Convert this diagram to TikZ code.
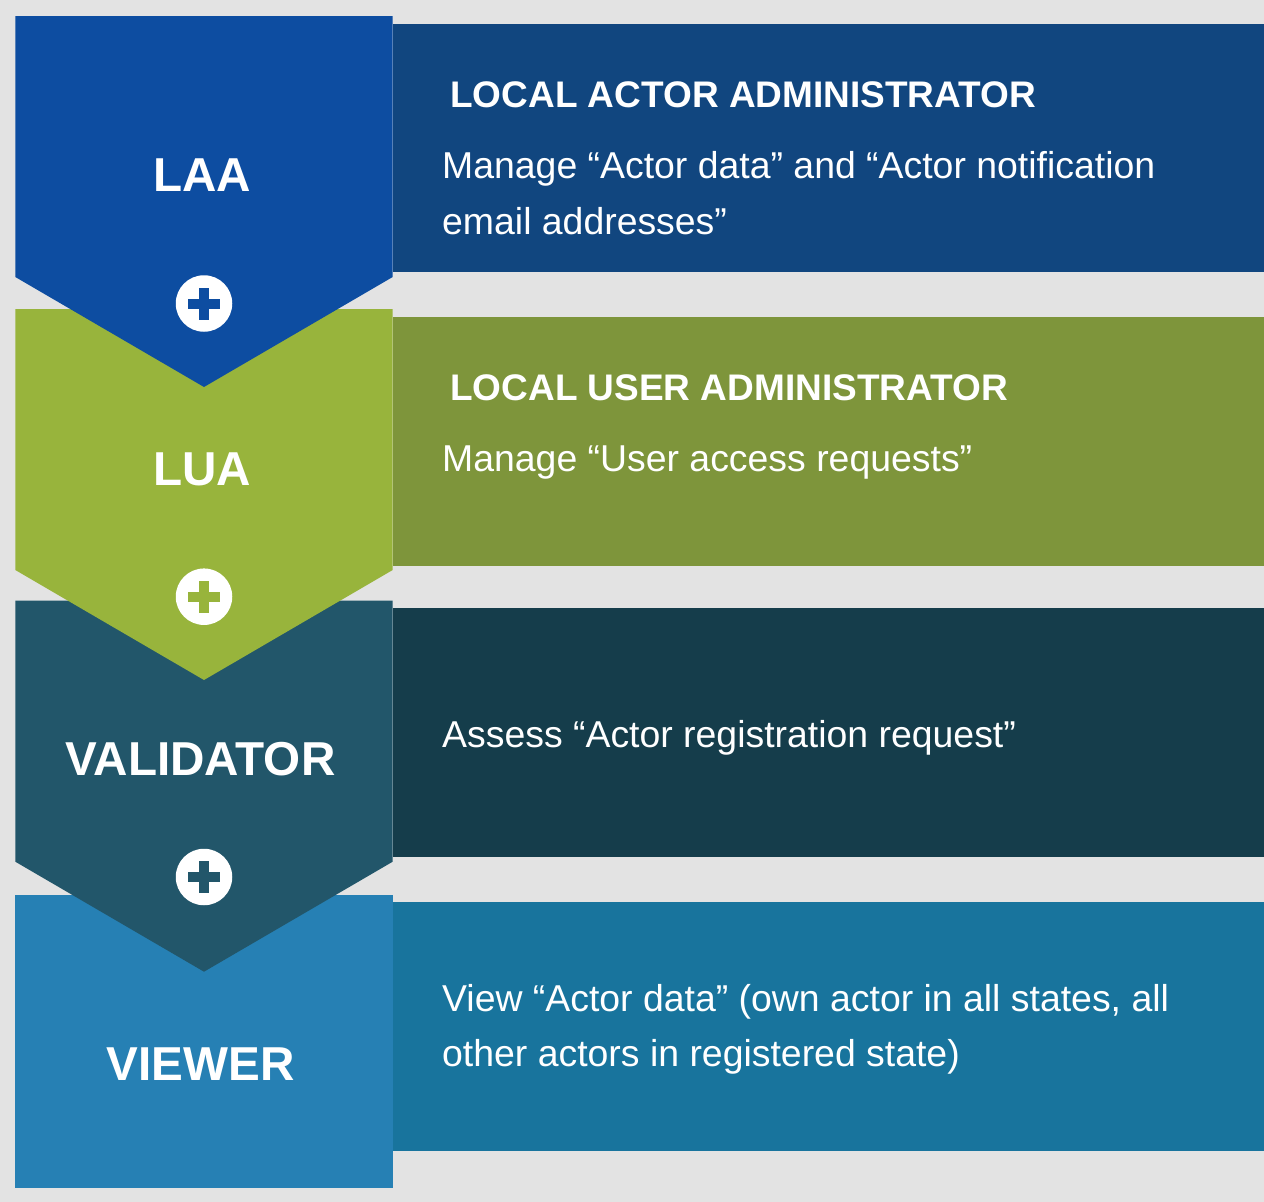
\documentclass[tikz,border=0pt]{standalone}
\usepackage{fontspec}
\setmainfont{Liberation Sans}
\definecolor{bg}{HTML}{E3E3E3}
\definecolor{laaA}{HTML}{0D4DA1}
\definecolor{laaB}{HTML}{11467F}
\definecolor{luaA}{HTML}{98B43C}
\definecolor{luaB}{HTML}{7E953B}
\definecolor{valA}{HTML}{22566A}
\definecolor{valB}{HTML}{153D4B}
\definecolor{viewA}{HTML}{2680B4}
\definecolor{viewB}{HTML}{18749D}
\tikzset{
  rolelabel/.style={text=white, inner sep=0pt, anchor=base, font=\bfseries\fontsize{47.6}{52}\selectfont},
  titletext/.style={text=white, inner sep=0pt, anchor=base west, font=\bfseries\fontsize{37}{42}\selectfont},
  bodytext/.style={text=white, inner sep=0pt, anchor=base west, font=\fontsize{37.4}{44}\selectfont},
  plusdisc/.style={circle, fill=white, minimum size=56.5pt, inner sep=0pt},
}
\newcommand{\chevronblock}[2]{% top y, colour
  \fill[#2] (15.3,#1) -- (392.7,#1) -- (392.7,#1+261) -- (204,#1+371) -- (15.3,#1+261) -- cycle;}
\newcommand{\pluscross}[2]{% node name, colour
  \fill[#2] ([shift={(-16,-5)}]#1.center) rectangle ([shift={(16,5)}]#1.center);
  \fill[#2] ([shift={(-5,-16)}]#1.center) rectangle ([shift={(5,16)}]#1.center);}
\begin{document}
\begin{tikzpicture}[x=1pt,y=-1pt]
\useasboundingbox (0,0) rectangle (1264,1202);
\fill[bg] (0,0) rectangle (1264,1202);
% right panels
\fill[laaB] (392.7,24) rectangle (1264,272);
\fill[luaB] (392.7,317) rectangle (1264,566);
\fill[valB] (392.7,608) rectangle (1264,857);
\fill[viewB] (392.7,902) rectangle (1264,1150.7);
% left blocks, bottom first
\fill[viewA] (15.3,895) rectangle (392.7,1187.7);
\chevronblock{600.7}{valA}
\chevronblock{309}{luaA}
\chevronblock{16}{laaA}
% plus discs
\node[plusdisc] (p1) at (204,303.5) {};
\pluscross{p1}{laaA}
\node[plusdisc] (p2) at (204,596.7) {};
\pluscross{p2}{luaA}
\node[plusdisc] (p3) at (204,877) {};
\pluscross{p3}{valA}
% role labels
\node[rolelabel] (laa) at (202,191.5) {LAA};
\node[rolelabel] (lua) at (202,485) {LUA};
\node[rolelabel] (val) at (200.5,775) {VALIDATOR};
\node[rolelabel] (view) at (200.5,1080) {VIEWER};
% panel texts
\node[titletext] (t1) at (450,107.7) {LOCAL ACTOR ADMINISTRATOR};
\node[bodytext] (b1a) at (442,178.3) {Manage “Actor data” and “Actor notification};
\node[bodytext] (b1b) at (442,234) {email addresses”};
\node[titletext] (t2) at (450,400.7) {LOCAL USER ADMINISTRATOR};
\node[bodytext] (b2) at (442,471.5) {Manage “User access requests”};
\node[bodytext] (b3) at (442,747.7) {Assess “Actor registration request”};
\node[bodytext] (b4a) at (442,1011) {View “Actor data” (own actor in all states, all};
\node[bodytext] (b4b) at (442,1066.7) {other actors in registered state)};
\end{tikzpicture}
\end{document}
